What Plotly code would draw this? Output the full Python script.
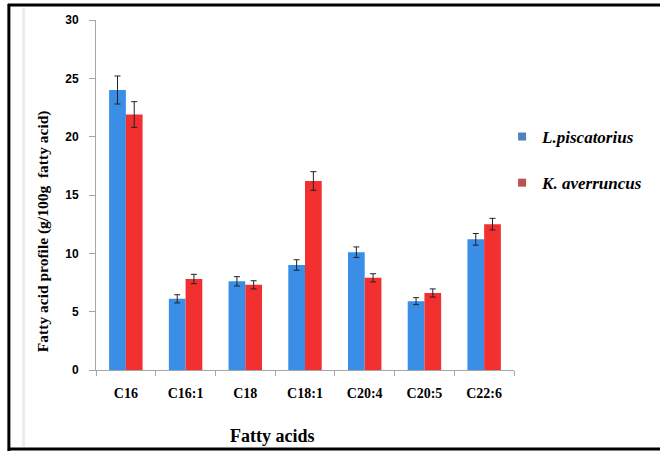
import plotly.graph_objects as go

categories = ["C16", "C16:1", "C18", "C18:1", "C20:4", "C20:5", "C22:6"]
series_names = ["L.piscatorius", "K. averruncus"]
l_pisc = [24.0, 6.1, 7.6, 9.0, 10.1, 5.9, 11.2]
l_pisc_err = [1.2, 0.35, 0.4, 0.45, 0.45, 0.3, 0.5]
k_aver = [21.9, 7.8, 7.3, 16.2, 7.9, 6.6, 12.5]
k_aver_err = [1.1, 0.4, 0.35, 0.8, 0.35, 0.35, 0.5]
y_ticks = [0, 5, 10, 15, 20, 25, 30]

W, H = 660, 452
L, R, T, B = 96, 137, 20, 82
pw, ph = W - L - R, H - T - B

def px(x):
    return (x - L) / pw

def py(y):
    return (H - B - y) / ph

bar_blue = "#3a8ee6"
bar_red = "#f23030"
leg_blue = "#4f81bd"
leg_red = "#c0504d"
serif = "Liberation Serif"

fig = go.Figure()
fig.add_trace(go.Bar(
    x=categories, y=l_pisc, name=series_names[0], marker_color=bar_blue,
    marker_line_width=0, showlegend=False,
    error_y=dict(type="data", array=l_pisc_err, color="#222222", thickness=1, width=3),
))
fig.add_trace(go.Bar(
    x=categories, y=k_aver, name=series_names[1], marker_color=bar_red,
    marker_line_width=0, showlegend=False,
    error_y=dict(type="data", array=k_aver_err, color="#222222", thickness=1, width=3),
))
for nm, col in zip(series_names, [leg_blue, leg_red]):
    fig.add_trace(go.Scatter(
        x=[None], y=[None], mode="markers", name=nm,
        marker=dict(symbol="square", size=8, color=col), legendgroup=nm,
    ))

fig.update_layout(
    width=W, height=H,
    margin=dict(l=L, r=R, t=T, b=B),
    plot_bgcolor="white", paper_bgcolor="white",
    barmode="group", bargap=0.44, bargroupgap=0,
    showlegend=True,
    legend=dict(
        x=px(660), y=py(119), xanchor="right", yanchor="top",
        font=dict(family=serif, size=17, color="#000", weight="bold", style="italic"),
        tracegroupgap=21, traceorder="grouped", itemwidth=30,
        bgcolor="rgba(0,0,0,0)",
    ),
    xaxis=dict(
        showline=True, linecolor="#a6a6a6", linewidth=1,
        ticks="outside", tickson="boundaries", ticklen=5, tickcolor="#a6a6a6",
        tickfont=dict(family=serif, size=14, color="#000", weight="bold"),
        ticklabelstandoff=10,
        showgrid=False,
    ),
    yaxis=dict(
        range=[0, 30], tickvals=y_ticks, showline=True, linecolor="#a6a6a6", linewidth=1,
        ticks="outside", ticklen=6, tickcolor="#a6a6a6",
        tickfont=dict(family="Liberation Sans", size=12, color="#000", weight="bold"),
        ticklabelstandoff=8,
        showgrid=False, zeroline=False,
    ),
    annotations=[
        dict(text="<b>Fatty acid profile (g/100g  fatty acid)</b>", textangle=-90,
             x=px(42), y=py(231), xref="paper", yref="paper", showarrow=False,
             xanchor="center", yanchor="middle",
             font=dict(family=serif, size=15.5, color="#000")),
        dict(text="<b>Fatty acids</b>", x=px(276), y=py(436), xref="paper", yref="paper",
             showarrow=False, xanchor="center", yanchor="middle",
             font=dict(family=serif, size=18, color="#000")),
    ],
    shapes=[
        dict(type="line", xref="paper", yref="paper", x0=px(7), x1=px(7), y0=py(4), y1=py(451),
             line=dict(color="black", width=3)),
        dict(type="line", xref="paper", yref="paper", x0=px(6), x1=px(720), y0=py(5), y1=py(5),
             line=dict(color="black", width=3)),
        dict(type="line", xref="paper", yref="paper", x0=px(6), x1=px(720), y0=py(449), y1=py(449),
             line=dict(color="black", width=3)),
        dict(type="line", xref="paper", yref="paper", x0=px(22), x1=px(22), y0=py(8), y1=py(447),
             line=dict(color="#ececec", width=3)),
    ],
)

fig.write_html(
    "out.html",
    config={"displayModeBar": False},
    post_script="document.body.style.margin='0';document.body.style.overflow='hidden';",
)
